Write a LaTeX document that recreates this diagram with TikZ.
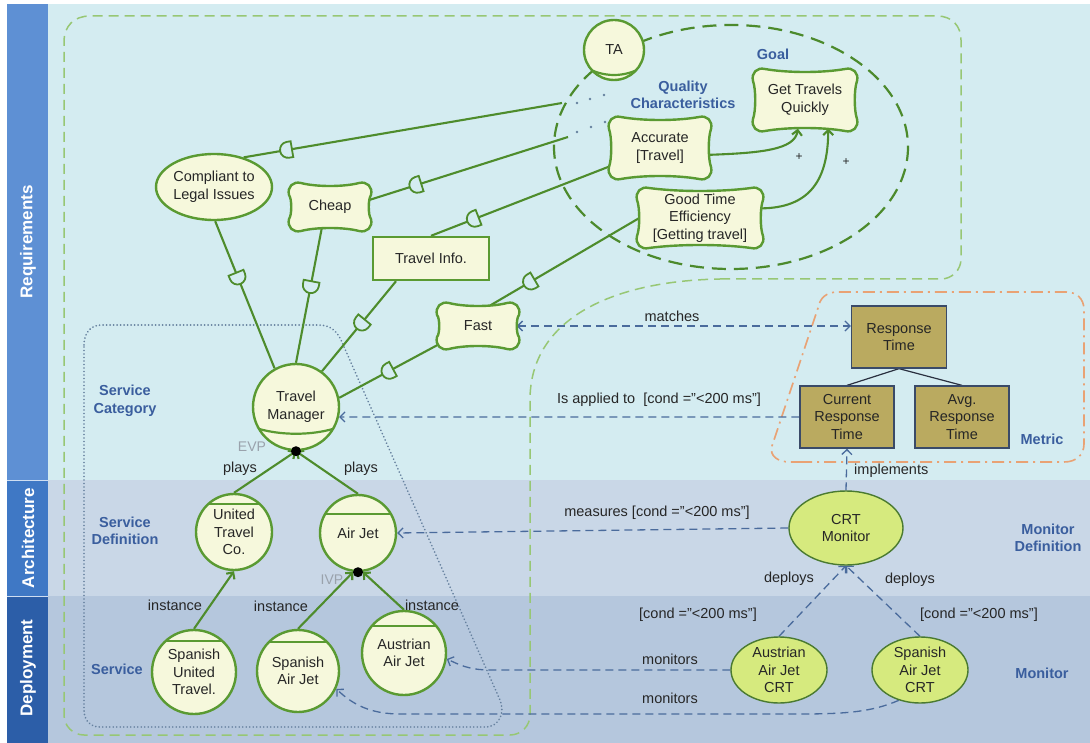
\documentclass[tikz,border=0pt]{standalone}
\usepackage{fontspec}
\setmainfont{Liberation Sans}
\usetikzlibrary{arrows.meta,decorations.markings,calc,shapes.geometric}
\pgfdeclarelayer{bg}
\pgfdeclarelayer{conn}
\pgfsetlayers{bg,conn,main}

\definecolor{reqbg}{HTML}{D4ECF1}
\definecolor{archbg}{HTML}{C9D7E7}
\definecolor{depbg}{HTML}{B5C7DD}
\definecolor{sideReq}{HTML}{5E90D4}
\definecolor{sideArch}{HTML}{3F78C5}
\definecolor{sideDep}{HTML}{2C5EA8}
\definecolor{blueLabel}{HTML}{3A5E9E}
\definecolor{cream}{HTML}{F6F8DC}
\definecolor{lime}{HTML}{D6EA7E}
\definecolor{olive}{HTML}{BAAA60}
\definecolor{navy}{HTML}{3A4A68}
\definecolor{frameGreen}{HTML}{97C774}
\definecolor{ellGreen}{HTML}{4C8A2C}
\definecolor{dotGray}{HTML}{65809E}
\definecolor{orangeF}{HTML}{E9A274}
\definecolor{dashBlue}{HTML}{4A6B9C}
\definecolor{grayLabel}{HTML}{9AA2AC}
\definecolor{nodeGreen}{HTML}{5A9A32}
\definecolor{lineGreen}{HTML}{4E8C2C}
\definecolor{crtBorder}{HTML}{4A7A30}
\definecolor{treeLine}{HTML}{2A3040}

\tikzset{
 txt/.style={font=\fontsize{14.5}{17.5}\selectfont, text=black!85, align=center},
 lbl/.style={txt, inner sep=1pt},
 blbl/.style={font=\fontsize{14.5}{17.5}\selectfont\bfseries, text=blueLabel, align=center, inner sep=1pt},
 glbl/.style={font=\fontsize{14}{17}\selectfont, text=grayLabel, inner sep=1pt},
 sidelbl/.style={rotate=90, font=\fontsize{17}{20}\selectfont\bfseries, text=white},
 greennode/.style={txt, draw=nodeGreen, line width=2.4pt, fill=cream, inner sep=0pt},
 svc/.style={greennode, circle, minimum size=#1},
 svctop/.style={path picture={\draw[nodeGreen, line width=2.2pt] ([yshift=-#1]path picture bounding box.north west) -- ([yshift=-#1]path picture bounding box.north east);}},
 tmchord/.style={path picture={\draw[nodeGreen, line width=2.2pt] ([yshift=23pt]path picture bounding box.south west) .. controls ([xshift=25pt,yshift=14pt]path picture bounding box.south west) and ([xshift=-25pt,yshift=14pt]path picture bounding box.south east) .. ([yshift=23pt]path picture bounding box.south east);}},
 tachord/.style={path picture={\draw[nodeGreen, line width=2.2pt] ([yshift=14pt]path picture bounding box.south west) .. controls ([xshift=18pt,yshift=2pt]path picture bounding box.south west) and ([xshift=-18pt,yshift=2pt]path picture bounding box.south east) .. ([yshift=14pt]path picture bounding box.south east);}},
 pillowsty/.style={draw=nodeGreen, line width=2.4pt, fill=cream},
 crtsty/.style={txt, ellipse, draw=crtBorder, line width=1.4pt, fill=lime, inner sep=0pt},
 metricbox/.style={txt, rectangle, draw=navy, line width=1.3pt, fill=olive, inner sep=0pt},
 gline/.style={draw=lineGreen, line width=2.1pt},
 garrow/.style={gline, -{Straight Barb[length=5pt,width=10pt]}},
 dline/.style={draw=dashBlue, line width=1.3pt, dash pattern=on 8pt off 5pt},
 darrow/.style={dline, -{Straight Barb[length=5pt,width=10pt]}},
 sock/.style={draw=lineGreen, line width=1.8pt, fill=reqbg, solid},
 sockat/.style={postaction={decorate, decoration={markings, mark=at position #1 with {\draw[sock] (3,-8) -- (3,8) -- (-1,8) arc[start angle=90,end angle=270,radius=8] -- cycle;}}}},
}

\newcommand\pillow[6]{%
 \pgfmathsetmacro\pwa{#4/2}\pgfmathsetmacro\pwb{#5/2}%
 \begin{scope}[shift={(#2,#3)}]
 \draw[pillowsty] ({-\pwa+13},{-\pwb+1}) .. controls ({-\pwa/3},{-\pwb+5}) and ({\pwa/3},{-\pwb+5}) .. ({\pwa-13},{-\pwb+1})
 .. controls ({\pwa-5},{-\pwb-1}) and ({\pwa+1},{-\pwb+5}) .. ({\pwa-1},{-\pwb+13})
 .. controls ({\pwa-4},{-\pwb/3}) and ({\pwa-4},{\pwb/3}) .. ({\pwa-1},{\pwb-13})
 .. controls ({\pwa+1},{\pwb-5}) and ({\pwa-5},{\pwb+1}) .. ({\pwa-13},{\pwb-1})
 .. controls ({\pwa/3},{\pwb-5}) and ({-\pwa/3},{\pwb-5}) .. ({-\pwa+13},{\pwb-1})
 .. controls ({-\pwa+5},{\pwb+1}) and ({-\pwa-1},{\pwb-5}) .. ({-\pwa+1},{\pwb-13})
 .. controls ({-\pwa+4},{\pwb/3}) and ({-\pwa+4},{-\pwb/3}) .. ({-\pwa+1},{-\pwb+13})
 .. controls ({-\pwa-1},{-\pwb+5}) and ({-\pwa+5},{-\pwb-1}) .. ({-\pwa+13},{-\pwb+1}) -- cycle;
 \end{scope}
 \node[txt, inner sep=0pt, minimum width={#4pt-7pt}, minimum height={#5pt-7pt}] (#1) at (#2,#3) {#6};
}

\begin{document}
\begin{tikzpicture}[x=1pt,y=-1pt]
\useasboundingbox (0,0) rectangle (1090,743);

\begin{pgfonlayer}{bg}
 \fill[white] (0,0) rectangle (1090,743);
 \fill[reqbg] (48,4) rectangle (1090,480);
 \fill[archbg] (48,480) rectangle (1090,596);
 \fill[depbg] (48,596) rectangle (1090,743);
 \fill[sideReq] (7,4) rectangle (48,480);
 \fill[sideArch] (7,480) rectangle (48,596);
 \fill[sideDep] (7,596) rectangle (48,743);
 \draw[white!70!sideReq, line width=0.8pt] (7,480) -- (48,480) (7,596) -- (48,596);
 % requirements / service frame
 \draw[frameGreen, line width=1.5pt, dash pattern=on 10pt off 6pt]
  (720,279) -- (941,279) .. controls (952,279) and (961,270) .. (961,259) -- (961,40)
  .. controls (961,26) and (952,16) .. (937,16) -- (90,16) .. controls (74,16) and (64,26) .. (64,42)
  -- (64,715) .. controls (64,726) and (73,735) .. (84,735) -- (510,735)
  .. controls (521,735) and (530,726) .. (530,715) -- (530,400)
  .. controls (530,320) and (610,281) .. (720,279);
 % dotted service group
 \draw[dotGray, line width=1.8pt, line cap=round, dash pattern=on 0.1pt off 3.4pt]
  (84,345) .. controls (84,334) and (90,325) .. (101,325) -- (318,325)
  .. controls (330,325) and (336,330) .. (341,340) -- (500,700)
  .. controls (505,712) and (500,727) .. (485,727) -- (100,727)
  .. controls (90,727) and (84,720) .. (84,710) -- cycle;
 % metric frame
 \draw[orangeF, line width=1.6pt, dash pattern=on 12pt off 5pt on 2pt off 5pt]
  (800,462) -- (1064,462) .. controls (1076,462) and (1084,455) .. (1084,444) -- (1084,310)
  .. controls (1084,298) and (1076,292) .. (1066,292) -- (838,292)
  .. controls (826,292) and (820,298) .. (818,308) -- (772,446)
  .. controls (769,456) and (778,462) .. (790,462) -- cycle;
 % goal ellipse
 \draw[ellGreen, line width=2.2pt, dash pattern=on 14pt off 8pt] (731,147) ellipse [x radius=177, y radius=122];
 \foreach \x/\y in {577/103,590/99,604/95,577/132,591/127,605/122}
  \fill[dotGray] (\x,\y) circle[radius=1.3];
\end{pgfonlayer}

% sidebar labels
\node[sidelbl] (sreq) at (28,242) {Requirements};
\node[sidelbl] (sarch) at (28,538) {Architecture};
\node[sidelbl] (sdep) at (28,668) {Deployment};

% blue labels
\node[blbl] (lq) at (683,95) {Quality\\Characteristics};
\node[blbl] (lgoal) at (773,54) {Goal};
\node[blbl] (lsc) at (125,401) {Service\\Category};
\node[blbl] (lsd) at (125,531) {Service\\Definition};
\node[blbl] (lsv) at (117,669) {Service};
\node[blbl] (lmetric) at (1042,439) {Metric};
\node[blbl] (lmd) at (1048,538) {Monitor\\Definition};
\node[blbl] (lmon) at (1042,673) {Monitor};

% requirement nodes
\node[svc=60pt, tachord] (ta) at (614,50) {TA};
\pillow{gtq}{805}{100}{106}{64}{Get Travels\\Quickly}
\pillow{acc}{660}{148}{104}{64}{Accurate\\{}[Travel]}
\pillow{gt}{700}{218}{128}{62}{Good Time\\Efficiency\\{}[Getting travel]}
\node[greennode, ellipse, minimum width=116pt, minimum height=66pt] (compl) at (214,187) {Compliant to\\Legal Issues};
\pillow{cheap}{330}{207}{84}{50}{Cheap}
\node[greennode, rectangle, minimum width=116pt, minimum height=43pt] (tinfo) at (431,258.5) {Travel Info.};
\pillow{fast}{478}{326}{84}{48}{Fast}

% service nodes
\node[svc=86pt, tmchord] (tm) at (296,407) {Travel\\Manager};
\node[svc=76pt, svctop=10pt] (utc) at (234,532) {United\\Travel\\Co.};
\node[svc=76pt, svctop=19pt] (aj) at (358,533) {Air Jet};
\node[svc=84pt, svctop=11pt] (sut) at (194,672) {Spanish\\United\\Travel.};
\node[svc=82pt, svctop=12pt] (saj) at (298,671) {Spanish\\Air Jet};
\node[svc=84pt, svctop=15pt] (aaj) at (404,653) {Austrian\\Air Jet};

% metric nodes
\node[metricbox, minimum width=95pt, minimum height=62pt] (rt) at (899,337) {Response\\Time};
\node[metricbox, minimum width=94pt, minimum height=62pt] (cur) at (847,417) {Current\\Response\\Time};
\node[metricbox, minimum width=94pt, minimum height=62pt] (avg) at (962,417) {Avg.\\Response\\Time};

% monitors
\node[crtsty, minimum width=114pt, minimum height=74pt] (crt) at (846,528) {CRT\\Monitor};
\node[crtsty, minimum width=96pt, minimum height=66pt] (acrt) at (779,670) {Austrian\\Air Jet\\CRT};
\node[crtsty, minimum width=96pt, minimum height=66pt] (scrt) at (920,670) {Spanish\\Air Jet\\CRT};

% connector labels
\node[lbl] (lmatch) at (672,316) {matches};
\node[lbl] (lapp) at (659,400) {Is applied to~ [cond ="<200 ms"]};
\node[lbl, anchor=west] (limpl) at (853,471) {implements};
\node[lbl] (lmeas) at (657,513) {measures [cond ="<200 ms"]};
\node[lbl] (ldep1) at (789,579) {deploys};
\node[lbl] (ldep2) at (910,580) {deploys};
\node[lbl] (lc1) at (698,615) {[cond ="<200 ms"]};
\node[lbl] (lc2) at (979,615) {[cond ="<200 ms"]};
\node[lbl] (lmon1) at (670,659) {monitors};
\node[lbl] (lmon2) at (670,698) {monitors};
\node[lbl] (lp1) at (240,469) {plays};
\node[lbl] (lp2) at (361,469) {plays};
\node[lbl] (li1) at (175,605) {instance};
\node[lbl] (li2) at (281,606) {instance};
\node[lbl] (li3) at (432,605) {instance};
\node[glbl] (levp) at (252,447) {EVP};
\node[glbl] (livp) at (332,580) {IVP};
\node[lbl, font=\fontsize{12}{13}\selectfont] (plus1) at (799,157) {+};
\node[lbl, font=\fontsize{12}{13}\selectfont] (plus2) at (846,162) {+};

% variation points
\fill[black] (tm.south) circle[radius=5];
\fill[black] (aj.south) circle[radius=5];

\begin{pgfonlayer}{conn}
 \coordinate (q1) at (562,103);
 \coordinate (q2) at (568,137);
 \draw[gline, sockat=46pt] (compl.45) -- (q1);
 \draw[gline, sockat=52pt] (cheap.10) -- (q2);
 \draw[gline, sockat=48pt] (tinfo.north) -- (acc.200);
 \draw[gline, sockat=48pt] (fast.59) -- (gt.west);
 \draw[gline, sockat=100pt] (tm.119) -- (compl.-88);
 \draw[gline, sockat=80pt] (tm.north) -- (cheap.-111);
 \draw[gline, sockat=64pt] (tm.54) -- (tinfo.213);
 \draw[gline, sockat=58pt] (tm.12) -- (fast.205);
 \draw[garrow] (acc.-8) .. controls (760,153) and (795,150) .. (gtq.-104);
 \draw[garrow] (gt.9) .. controls (810,208) and (828,180) .. (gtq.-51);
 \draw[garrow] (utc.north) -- (tm.south);
 \draw[garrow] (aj.north) -- (tm.south);
 \draw[garrow] (sut.north) -- (utc.south);
 \draw[garrow] (saj.north) -- (aj.-97);
 \draw[garrow] (aaj.north) -- (aj.-83);
 \draw[treeLine, line width=1.2pt] (rt.south) -- (cur.north) (rt.south) -- (avg.north);
 \draw[dline, {Straight Barb[length=5pt,width=10pt]}-{Straight Barb[length=5pt,width=10pt]}] (fast.east) -- (rt.west |- fast.east);
 \draw[darrow] (cur.west) -- (tm.-13);
 \draw[darrow] (crt.north) -- (cur.south);
 \draw[darrow] (crt.west) -- (aj.east);
 \draw[darrow] (acrt.north) -- (crt.south);
 \draw[darrow] (scrt.north) -- (crt.south);
 \draw[darrow] (acrt.west) -- (490,670) .. controls (468,670) and (458,664) .. (aaj.-8);
 \draw[darrow] (scrt.-125) .. controls (872,712) and (845,714) .. (800,714) -- (400,714) .. controls (370,714) and (352,704) .. (saj.-25);
\end{pgfonlayer}
\end{tikzpicture}
\end{document}
